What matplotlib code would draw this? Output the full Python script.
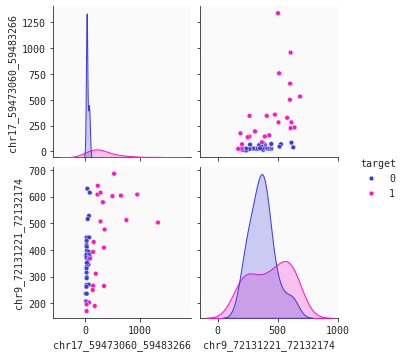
import numpy as np
import pandas as pd
import matplotlib
matplotlib.use("Agg")
import matplotlib.pyplot as plt
import seaborn as sns

# values (chr17 on x, chr9 on y)
chr17_t0 = [39, 84, 69, 46, 25, 72, 26, 25, 28, 31, 64, 13, 27, 78, 25, 58,
            88, 60, 30, 24, 25, 29, 27, 25, 66, 22, 8, 28, 13, 26, 30]
chr9_t0 = [630, 615, 528, 516, 447, 447, 434, 418, 411, 398, 393, 379, 383, 383, 370, 363,
           373, 345, 338, 331, 315, 298, 294, 269, 270, 262, 236, 236, 208, 205, 352]
chr17_t1 = [531, 231, 225, 281, 500, 656, 956, 325, 281, 756, 1337, 356,
            156, 344, 144, 87, 194, 144, 344, 137, 69, 25, 175, 25]
chr9_t1 = [686, 641, 608, 615, 602, 604, 608, 579, 507, 512, 503, 477,
           430, 409, 393, 368, 311, 266, 265, 250, 203, 196, 190, 171]

df = pd.DataFrame({
    "chr17_59473060_59483266": chr17_t0 + chr17_t1,
    "chr9_72131221_72132174": chr9_t0 + chr9_t1,
    "target": [0] * len(chr17_t0) + [1] * len(chr17_t1),
})

sns.set_style("ticks", {"axes.facecolor": "#fafafa"})
plt.rcParams["font.family"] = ["DejaVu Sans Mono"]

g = sns.pairplot(df, hue="target", palette=["#3c3cdc", "#ff14c8"], height=2.5,
                 plot_kws={"s": 22})
g.savefig("out.png", dpi=72)
